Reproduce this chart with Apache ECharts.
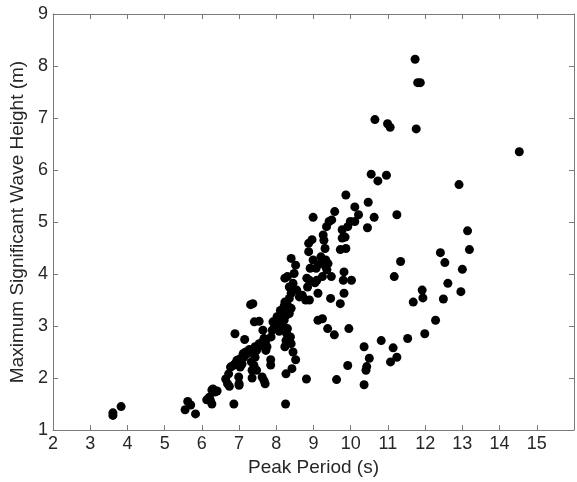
<!DOCTYPE html>
<html>
<head>
<meta charset="utf-8">
<script src="https://cdn.jsdelivr.net/npm/echarts@6/dist/echarts.min.js"></script>
<style>
html,body{margin:0;padding:0;background:#fff;}
#chart{width:577px;height:482px;}
</style>
</head>
<body>
<div id="chart"></div>
<script>
// Peak period (s)
const peakPeriod = [
  3.61,3.61,3.83,5.55,5.62,5.70,5.83,6.13,6.20,6.27,6.27,6.23,6.35,6.41,6.30,6.86,8.25,
  6.64,6.69,6.74,6.72,6.77,6.84,6.89,6.94,6.99,7.00,7.00,6.89,7.15,7.03,7.08,7.13,7.23,
  7.33,7.33,7.35,7.35,7.40,7.43,7.47,7.31,7.37,7.41,7.54,7.43,7.52,7.57,7.62,7.67,7.64,
  7.62,7.67,7.70,7.72,7.75,7.85,7.85,7.86,7.89,7.91,7.98,8.01,8.06,8.11,8.16,8.16,8.21,
  8.23,8.26,8.26,8.28,8.30,8.30,8.23,8.35,8.38,8.40,8.42,8.45,8.52,8.35,8.40,8.35,8.23,
  8.30,8.40,8.52,8.48,8.45,8.55,8.62,8.70,8.79,8.84,8.89,8.89,8.82,8.91,8.87,8.87,8.99,
  8.96,8.99,9.07,9.09,9.04,9.12,9.12,9.24,9.18,9.20,9.26,9.28,9.31,9.33,9.33,9.24,9.36,
  9.39,9.35,9.42,9.49,9.57,9.48,9.46,9.38,9.56,9.62,9.72,9.72,9.77,9.85,9.87,9.77,9.82,
  9.80,9.82,9.87,9.92,9.95,9.92,9.99,10.02,10.11,10.11,10.21,10.36,10.36,10.41,10.43,
  10.45,10.47,10.50,10.55,10.63,10.65,10.73,10.82,10.96,10.99,11.06,11.07,11.14,11.17,
  11.24,11.24,11.34,11.53,11.68,11.73,11.76,11.80,11.87,11.92,11.94,11.99,12.28,12.41,
  12.49,12.53,12.61,12.91,12.96,13.00,13.14,13.19,14.53,
  8.81,7.03,7.11,7.18,7.28,7.47,7.54,7.72,8.02,8.11,8.21,8.26,8.40,7.95,8.08,8.18
];
// Maximum significant wave height (m)
const waveHeight = [
  1.33,1.28,1.45,1.39,1.55,1.48,1.31,1.58,1.63,1.77,1.50,1.57,1.73,1.75,1.79,1.50,1.50,
  1.98,1.89,1.84,2.08,2.21,2.24,2.27,2.34,2.02,1.89,1.86,2.85,2.74,2.37,2.27,2.40,2.47,
  2.53,2.31,2.15,2.00,2.24,2.40,2.15,3.41,3.43,3.08,3.09,2.60,2.60,2.63,2.69,2.76,2.92,
  2.02,1.95,1.89,2.53,2.60,2.35,2.25,2.79,2.92,3.08,3.05,2.95,3.11,3.21,3.01,3.27,3.11,
  2.60,2.72,2.08,2.85,2.95,3.40,3.46,3.24,2.79,2.66,2.18,2.50,2.35,3.53,3.63,3.75,3.92,
  3.95,4.30,4.17,4.01,3.82,3.69,3.56,3.59,3.50,3.75,3.50,3.88,3.92,4.11,4.43,4.59,5.09,
  4.66,4.27,4.11,3.88,3.83,3.63,3.11,3.14,4.20,4.33,4.75,4.65,4.49,4.27,4.14,3.95,4.08,
  4.20,4.91,5.01,5.04,5.20,3.95,3.53,2.95,2.83,1.97,3.43,4.47,4.69,4.71,4.49,4.85,3.63,
  3.88,4.04,5.52,2.24,2.95,4.91,5.01,3.88,5.29,5.01,5.14,2.60,1.87,2.15,2.22,
  4.89,5.38,2.38,5.92,5.09,6.97,5.79,2.72,5.90,6.89,6.82,2.31,2.58,3.95,
  5.14,2.40,4.24,2.76,3.46,8.13,6.79,7.68,7.68,3.69,3.54,2.85,3.11,4.41,
  3.52,4.22,3.82,5.72,3.66,4.09,4.83,4.47,6.35,
  1.98,2.21,2.47,2.50,2.55,2.53,2.66,2.72,3.18,3.30,3.38,3.20,3.34,2.98,2.90,3.15
];
const xTicks = [2,3,4,5,6,7,8,9,10,11,12,13,14,15];
const yTicks = [1,2,3,4,5,6,7,8,9];

const points = peakPeriod.map((x, i) => [x, waveHeight[i]]);
const axisColor = '#7a7a7a';
const textColor = '#262626';
const font = 'Liberation Sans, Arial, sans-serif';

const chart = echarts.init(document.getElementById('chart'), null, {renderer: 'canvas'});
chart.setOption({
  animation: false,
  backgroundColor: '#ffffff',
  grid: {left: 53, top: 14, right: -1, bottom: 52, containLabel: false},
  xAxis: [{
    type: 'value', min: 2, max: 16, interval: 1,
    name: 'Peak Period (s)', nameLocation: 'middle', nameGap: 24,
    nameTextStyle: {fontSize: 19, color: textColor, fontFamily: font},
    axisLine: {show: true, onZero: false, lineStyle: {color: axisColor, width: 1}},
    axisTick: {show: true, inside: true, length: 5, lineStyle: {color: axisColor}},
    axisLabel: {fontSize: 18, color: textColor, fontFamily: font, margin: 5,
      formatter: v => xTicks.includes(v) ? String(v) : ''},
    splitLine: {show: false}
  }, {
    type: 'value', min: 2, max: 16, interval: 1, position: 'top',
    axisLine: {show: true, onZero: false, lineStyle: {color: axisColor, width: 1}},
    axisTick: {show: true, inside: true, length: 5, lineStyle: {color: axisColor}},
    axisLabel: {show: false}, splitLine: {show: false}
  }],
  yAxis: [{
    type: 'value', min: 1, max: 9, interval: 1,
    name: 'Maximum Significant Wave Height (m)', nameLocation: 'middle', nameGap: 26,
    nameTextStyle: {fontSize: 19, color: textColor, fontFamily: font},
    axisLine: {show: true, onZero: false, lineStyle: {color: axisColor, width: 1}},
    axisTick: {show: true, inside: true, length: 5, lineStyle: {color: axisColor}},
    axisLabel: {fontSize: 18, color: textColor, fontFamily: font, margin: 5,
      formatter: v => yTicks.includes(v) ? String(v) : ''},
    splitLine: {show: false}
  }, {
    type: 'value', min: 1, max: 9, interval: 1, position: 'right',
    axisLine: {show: true, onZero: false, lineStyle: {color: axisColor, width: 1}},
    axisTick: {show: true, inside: true, length: 5, lineStyle: {color: axisColor}},
    axisLabel: {show: false}, splitLine: {show: false}
  }],
  series: [{
    type: 'scatter',
    data: points,
    symbol: 'circle',
    symbolSize: 9,
    itemStyle: {color: '#000000', opacity: 1},
    xAxisIndex: 0, yAxisIndex: 0
  }]
});
</script>
</body>
</html>
